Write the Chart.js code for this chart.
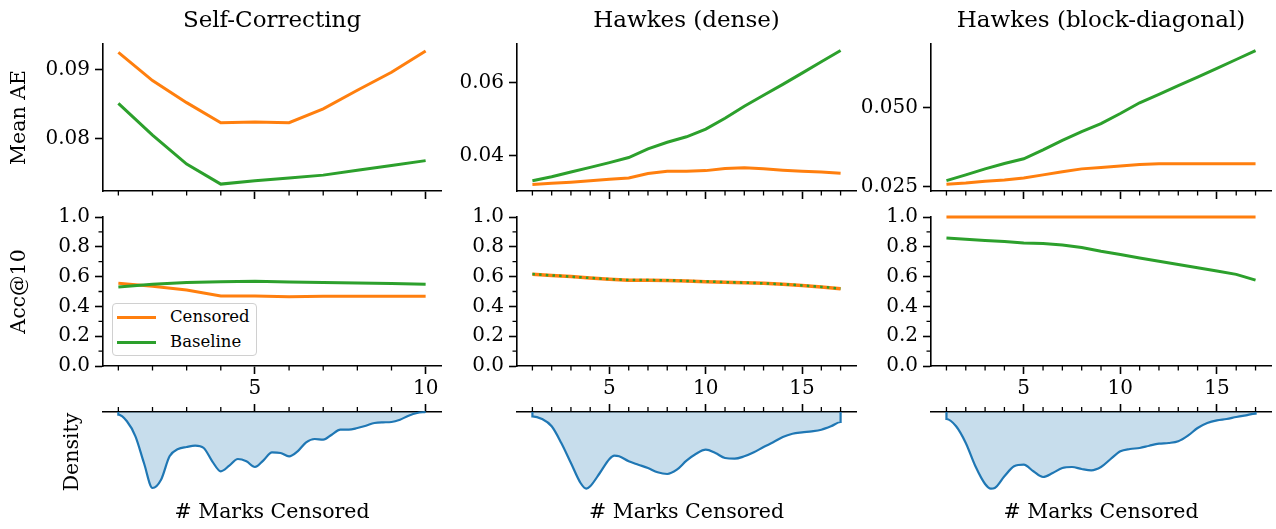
<!DOCTYPE html>
<html><head><meta charset="utf-8">
<script src="https://cdn.jsdelivr.net/npm/chart.js@4.4.1/dist/chart.umd.min.js"></script>
<style>
html,body{margin:0;padding:0;background:#fff;width:1276px;height:529px;overflow:hidden;position:relative;font-family:'DejaVu Serif',serif;}
canvas{position:absolute;}
#legend{position:absolute;left:112px;top:303px;width:143px;height:51px;border:1px solid #d0d0d0;border-radius:4px;background:rgba(255,255,255,0.85);}
.lg-sw{position:absolute;left:4px;width:39px;height:3px;}
.lg-tx{position:absolute;left:57px;height:20px;line-height:20px;font-size:16.5px;color:#000;white-space:nowrap;}
</style></head>
<body>
<div id="legend"></div>
<script>
// ---------------- data ----------------
const panelTitles = ['Self-Correcting', 'Hawkes (dense)', 'Hawkes (block-diagonal)'];
const seriesNames = ['Censored', 'Baseline'];
const xLabel = '# Marks Censored';

const marksSC = [1, 2, 3, 4, 5, 6, 7, 8, 9, 10];
const marksHK = [1, 2, 3, 4, 5, 6, 7, 8, 9, 10, 11, 12, 13, 14, 15, 16, 17];

// Mean AE
const aeCensoredSC = [0.0925, 0.0884, 0.0852, 0.0823, 0.0824, 0.0823, 0.0843, 0.0870, 0.0896, 0.0927];
const aeBaselineSC = [0.0851, 0.0805, 0.0763, 0.0734, 0.0739, 0.0743, 0.0747, 0.0754, 0.0761, 0.0768];
const aeCensoredHD = [0.0320, 0.0323, 0.0326, 0.0330, 0.0334, 0.0338, 0.0350, 0.0356, 0.0356, 0.0358, 0.0364, 0.0366, 0.0363, 0.0359, 0.0356, 0.0354, 0.0351];
const aeBaselineHD = [0.0330, 0.0341, 0.0354, 0.0367, 0.0380, 0.0394, 0.0418, 0.0436, 0.0451, 0.0472, 0.0502, 0.0535, 0.0565, 0.0595, 0.0626, 0.0657, 0.0688];
const aeCensoredHB = [0.0257, 0.0261, 0.0267, 0.0271, 0.0277, 0.0287, 0.0297, 0.0306, 0.0310, 0.0315, 0.0320, 0.0322, 0.0322, 0.0322, 0.0322, 0.0322, 0.0322];
const aeBaselineHB = [0.0269, 0.0287, 0.0306, 0.0323, 0.0338, 0.0366, 0.0396, 0.0424, 0.0449, 0.0481, 0.0515, 0.0542, 0.0569, 0.0596, 0.0624, 0.0652, 0.0680];

// Acc@10
const accCensoredSC = [0.556, 0.535, 0.510, 0.470, 0.470, 0.465, 0.468, 0.468, 0.468, 0.468];
const accBaselineSC = [0.531, 0.548, 0.560, 0.565, 0.568, 0.563, 0.560, 0.557, 0.553, 0.549];
const accCensoredHD = [0.615, 0.607, 0.600, 0.590, 0.582, 0.576, 0.576, 0.574, 0.570, 0.566, 0.562, 0.558, 0.555, 0.548, 0.540, 0.530, 0.518];
const accBaselineHD = [0.617, 0.608, 0.600, 0.591, 0.583, 0.577, 0.577, 0.575, 0.571, 0.567, 0.563, 0.559, 0.555, 0.549, 0.541, 0.531, 0.520];
const accCensoredHB = [1.0, 1.0, 1.0, 1.0, 1.0, 1.0, 1.0, 1.0, 1.0, 1.0, 1.0, 1.0, 1.0, 1.0, 1.0, 1.0, 1.0];
const accBaselineHB = [0.859, 0.851, 0.843, 0.835, 0.826, 0.822, 0.812, 0.795, 0.770, 0.748, 0.725, 0.703, 0.681, 0.660, 0.638, 0.615, 0.576];

// Density of # marks censored (drawn downward)
const densXSC = [1, 1, 1.25, 1.5, 1.75, 2, 2.25, 2.5, 2.75, 3, 3.25, 3.5, 3.75, 4, 4.25, 4.5, 4.75, 5, 5.25, 5.5, 5.75, 6, 6.25, 6.5, 6.75, 7, 7.25, 7.5, 7.75, 8, 8.25, 8.5, 8.75, 9, 9.25, 9.5, 9.75, 10];
const densSC = [0, 0.027, 0.093, 0.243, 0.51, 0.76, 0.677, 0.443, 0.37, 0.35, 0.337, 0.36, 0.493, 0.593, 0.537, 0.47, 0.493, 0.55, 0.483, 0.403, 0.41, 0.443, 0.393, 0.303, 0.27, 0.277, 0.227, 0.177, 0.177, 0.16, 0.137, 0.11, 0.103, 0.1, 0.077, 0.037, 0.01, 0.0];
const densXHD = [1, 1, 1.5, 2, 2.5, 3, 3.5, 3.8, 4, 4.5, 5, 5.25, 5.5, 6, 6.5, 7, 7.5, 8, 8.5, 9, 9.5, 10, 10.5, 11, 11.5, 12, 12.5, 13, 13.5, 14, 14.5, 15, 15.5, 16, 16.5, 17, 17];
const densHD = [0, 0.043, 0.07, 0.143, 0.31, 0.51, 0.71, 0.767, 0.743, 0.61, 0.47, 0.437, 0.443, 0.493, 0.527, 0.56, 0.603, 0.62, 0.577, 0.487, 0.417, 0.377, 0.41, 0.46, 0.467, 0.443, 0.403, 0.35, 0.303, 0.25, 0.217, 0.203, 0.193, 0.177, 0.143, 0.10, 0];
const densXHB = [1, 1, 1.5, 2, 2.5, 3, 3.3, 3.5, 4, 4.5, 5, 5.5, 6, 6.5, 7, 7.5, 8, 8.5, 9, 9.5, 10, 10.5, 11, 11.5, 12, 12.5, 13, 13.5, 14, 14.5, 15, 15.5, 16, 16.5, 17, 17];
const densHB = [0, 0.07, 0.143, 0.31, 0.543, 0.72, 0.767, 0.76, 0.643, 0.543, 0.527, 0.593, 0.65, 0.61, 0.56, 0.55, 0.57, 0.583, 0.55, 0.47, 0.393, 0.37, 0.36, 0.337, 0.317, 0.31, 0.293, 0.237, 0.16, 0.11, 0.083, 0.07, 0.05, 0.033, 0.017, 0];

// tick values / labels
const aeTicksSC = [0.08, 0.09], aeTickLabelsSC = ['0.08', '0.09'];
const aeTicksHD = [0.04, 0.06], aeTickLabelsHD = ['0.04', '0.06'];
const aeTicksHB = [0.025, 0.050], aeTickLabelsHB = ['0.025', '0.050'];
const accTicks = [0, 0.2, 0.4, 0.6, 0.8, 1.0], accTickLabels = ['0.0', '0.2', '0.4', '0.6', '0.8', '1.0'];
const accMinorTicks = [0.1, 0.3, 0.5, 0.7, 0.9];
const xMajorSC = [5, 10], xMajorHK = [5, 10, 15];
const xMinorSC = [1, 2, 3, 4, 6, 7, 8, 9];
const xMinorHK = [1, 2, 3, 4, 6, 7, 8, 9, 11, 12, 13, 14, 16, 17];

// ---------------- drawing ----------------
const FONT = "'DejaVu Serif', serif";
const ORANGE = '#ff7f0e', GREEN = '#2ca02c', BLUE = '#1f77b4';
const AXW = 1.6;
const colL = [103, 517, 931], colR = [441, 856, 1271];
const YW = 100, PADR = 5;

const panels = [
  {x: marksSC, ae: [aeCensoredSC, aeBaselineSC], acc: [accCensoredSC, accBaselineSC], dx: densXSC, d: densSC,
   xr: [0.55, 10.45], aer: [0.0724, 0.0937], aeT: aeTicksSC, aeL: aeTickLabelsSC, maj: xMajorSC, min: xMinorSC},
  {x: marksHK, ae: [aeCensoredHD, aeBaselineHD], acc: [accCensoredHD, accBaselineHD], dx: densXHD, d: densHD,
   xr: [0.2, 17.8], aer: [0.0302, 0.0706], aeT: aeTicksHD, aeL: aeTickLabelsHD, maj: xMajorHK, min: xMinorHK},
  {x: marksHK, ae: [aeCensoredHB, aeBaselineHB], acc: [accCensoredHB, accBaselineHB], dx: densXHB, d: densHB,
   xr: [0.2, 17.8], aer: [0.0236, 0.0701], aeT: aeTicksHB, aeL: aeTickLabelsHB, maj: xMajorHK, min: xMinorHK}
];

function minorPlugin(items) {
  return {
    id: 'minorTicks',
    afterDraw(chart) {
      const ctx = chart.ctx;
      ctx.save();
      ctx.strokeStyle = '#000';
      ctx.lineWidth = 1.3;
      items.forEach(it => {
        const s = chart.scales[it.scale];
        ctx.beginPath();
        it.values.forEach(v => {
          const p = s.getPixelForValue(v);
          if (s.isHorizontal()) {
            const top = s.position === 'top';
            const y0 = top ? s.bottom : s.top;
            ctx.moveTo(p, y0); ctx.lineTo(p, y0 + (top ? -1 : 1) * it.len);
          } else {
            ctx.moveTo(s.right, p); ctx.lineTo(s.right - it.len, p);
          }
        });
        ctx.stroke();
      });
      ctx.restore();
    }
  };
}

function addCanvas(left, top, w, h) {
  const c = document.createElement('canvas');
  c.width = w; c.height = h;
  c.style.left = left + 'px'; c.style.top = top + 'px';
  c.style.width = w + 'px'; c.style.height = h + 'px';
  document.body.appendChild(c);
  return c;
}

function gridOpts(show) {
  return {display: show, drawOnChartArea: false, drawTicks: true, tickLength: 8, tickWidth: AXW, tickColor: '#000'};
}
function tickFont() { return {family: FONT, size: 20}; }

function xScaleCfg(p, position, height, showLabels) {
  return {
    type: 'linear', position, min: p.xr[0], max: p.xr[1],
    afterBuildTicks: s => { s.ticks = p.maj.map(v => ({value: v})); },
    afterFit: s => { s.height = height; },
    grid: gridOpts(true),
    border: {display: true, color: '#000', width: AXW},
    ticks: {display: showLabels, autoSkip: false, maxRotation: 0, padding: 3, color: '#000', font: tickFont(),
            callback: v => String(v)}
  };
}
function titleScaleCfg(p, position, height, text, pad) {
  return {
    type: 'linear', position, min: p.xr[0], max: p.xr[1],
    afterFit: s => { s.height = height; },
    grid: {display: false}, border: {display: false}, ticks: {display: false},
    title: {display: true, text, color: '#000', font: pad.font, padding: pad.padding}
  };
}

function baseOpts() {
  return {
    responsive: false, animation: false, devicePixelRatio: 1, events: [],
    layout: {autoPadding: false, padding: {left: 0, right: PADR, top: 0, bottom: 0}},
    plugins: {legend: {display: false}, tooltip: {enabled: false}, title: {display: false}},
    elements: {point: {radius: 0}, line: {tension: 0}}
  };
}

function lineDS(xs, ys, color, width, extra) {
  return Object.assign({data: xs.map((x, i) => ({x, y: ys[i]})), borderColor: color, borderWidth: width,
    pointRadius: 0, fill: false, clip: 8}, extra || {});
}

panels.forEach((p, c) => {
  const cl = colL[c] - YW, cw = colR[c] - colL[c] + YW + PADR;

  // ---- Row 1: Mean AE ----
  {
    const cv = addCanvas(cl, 0, cw, 208);
    const o = baseOpts();
    o.scales = {
      xt: titleScaleCfg(p, 'top', 44, panelTitles[c], {font: {family: FONT, size: 23}, padding: {top: 7, bottom: 0}}),
      x: xScaleCfg(p, 'bottom', 12, false),
      y: {
        type: 'linear', position: 'left', min: p.aer[0], max: p.aer[1],
        afterBuildTicks: s => { s.ticks = p.aeT.map(v => ({value: v})); },
        afterFit: s => { s.width = YW; },
        grid: gridOpts(true),
        border: {display: true, color: '#000', width: AXW},
        ticks: {autoSkip: false, padding: 5, color: '#000', font: tickFont(), callback: (v, i) => p.aeL[i]},
        title: {display: c === 0, text: 'Mean AE', color: '#000', font: {family: FONT, size: 20.5}, padding: {top: 4, bottom: 0}}
      }
    };
    new Chart(cv, {type: 'line', data: {datasets: [
      lineDS(p.x, p.ae[0], ORANGE, 3, {order: 1}),
      lineDS(p.x, p.ae[1], GREEN, 3, {order: 0})
    ]}, options: o, plugins: [minorPlugin([{scale: 'x', values: p.min, len: 4.5}])]});
  }

  // ---- Row 2: Acc@10 ----
  {
    const cv = addCanvas(cl, 200, cw, 196);
    const o = baseOpts();
    o.layout.padding.top = 16;
    o.scales = {
      x: xScaleCfg(p, 'bottom', 30, true),
      y: {
        type: 'linear', position: 'left', min: 0, max: 1.0,
        afterBuildTicks: s => { s.ticks = accTicks.map(v => ({value: v})); },
        afterFit: s => { s.width = YW; },
        grid: gridOpts(true),
        border: {display: true, color: '#000', width: AXW},
        ticks: {autoSkip: false, padding: 5, color: '#000', font: tickFont(), callback: (v, i) => accTickLabels[i]},
        title: {display: c === 0, text: 'Acc@10', color: '#000', font: {family: FONT, size: 20.5}, padding: {top: 4, bottom: 0}}
      }
    };
    const ds = c === 1
      ? [lineDS(p.x, p.acc[0], ORANGE, 3.5, {order: 1}), lineDS(p.x, p.acc[1], GREEN, 2.5, {order: 0, borderDash: [2.5, 4.2]})]
      : [lineDS(p.x, p.acc[0], ORANGE, 3, {order: 1}), lineDS(p.x, p.acc[1], GREEN, 3, {order: 0})];
    new Chart(cv, {type: 'line', data: {datasets: ds}, options: o,
      plugins: [minorPlugin([{scale: 'x', values: p.min, len: 4.5}, {scale: 'y', values: accMinorTicks, len: 4.5}])]});
  }

  // ---- Row 3: density ----
  {
    const cv = addCanvas(cl, 400, cw, 128);
    const o = baseOpts();
    o.scales = {
      x: xScaleCfg(p, 'top', 12, false),
      x2: titleScaleCfg(p, 'bottom', 36, xLabel, {font: {family: FONT, size: 20.5}, padding: {top: 0, bottom: 3}}),
      y: {
        type: 'linear', position: 'left', min: 0, max: 0.80, reverse: true,
        afterFit: s => { s.width = YW; },
        grid: {display: false}, border: {display: false}, ticks: {display: false},
        title: {display: c === 0, text: 'Density', color: '#000', font: {family: FONT, size: 20.5}, padding: {top: 57, bottom: 0}}
      }
    };
    new Chart(cv, {type: 'line', data: {datasets: [
      lineDS(p.dx, p.d, BLUE, 2.2, {fill: 'origin', backgroundColor: 'rgba(31,119,180,0.25)', cubicInterpolationMode: 'monotone', xAxisID: 'x', yAxisID: 'y'})
    ]}, options: o, plugins: [minorPlugin([{scale: 'x', values: p.min, len: 5}])]});
  }
});

// ---- legend ----
const legendColors = [ORANGE, GREEN];
const lg = document.getElementById('legend');
seriesNames.forEach((name, i) => {
  const cy = 13 + i * 25;
  const sw = document.createElement('div');
  sw.className = 'lg-sw'; sw.style.top = (cy - 1.5) + 'px'; sw.style.background = legendColors[i];
  const tx = document.createElement('div');
  tx.className = 'lg-tx'; tx.style.top = (cy - 10) + 'px'; tx.textContent = name;
  lg.appendChild(sw); lg.appendChild(tx);
});
</script>
</body></html>
